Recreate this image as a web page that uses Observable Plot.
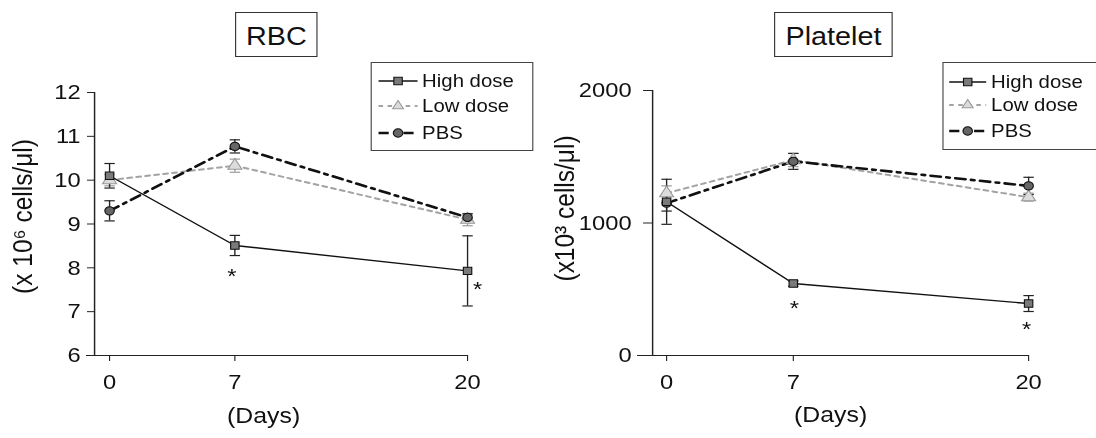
<!DOCTYPE html>
<html><head><meta charset="utf-8">
<script src="https://cdn.jsdelivr.net/npm/d3@7"></script>
<script src="https://cdn.jsdelivr.net/npm/@observablehq/plot@0.6"></script>
<style>
html,body{margin:0;padding:0;background:#fff;overflow:hidden;width:1096px;height:438px}
#wrap{position:relative;height:438px;transform-origin:0 0;font-family:"Liberation Sans",Arial,sans-serif;color:#111}
.panel{position:absolute;top:0}
.tbox{position:absolute;box-sizing:border-box;border:1px solid #333;text-align:center;background:#fff;white-space:nowrap}
.legend{position:absolute;box-sizing:border-box;border:1px solid #444;background:#fff}
.lrow{position:absolute;left:0;height:20px;white-space:nowrap}
.lrow svg{position:absolute;top:3px}
.lrow span{position:absolute;top:0;line-height:20px;font-size:18px}
</style>
</head><body>
<div id="wrap"></div>
<script>
// ---- data ----
const days = [0, 7, 20];
const dayTicks = [0, 7, 20];
const seriesNames = ["High dose", "Low dose", "PBS"];

const rbcHigh = [10.1, 8.51, 7.93];
const rbcHighErr = [0.28, 0.23, 0.8];
const rbcLow = [10.0, 10.33, 9.1];
const rbcLowErr = [0.13, 0.15, 0.14];
const rbcPbs = [9.3, 10.77, 9.15];
const rbcPbsErr = [0.23, 0.15, 0.08];
const rbcTicks = [6, 7, 8, 9, 10, 11, 12];

const pltHigh = [1160, 543, 392];
const pltHighErr = [170, 20, 60];
const pltLow = [1225, 1475, 1195];
const pltLowErr = [55, 50, 30];
const pltPbs = [1150, 1465, 1280];
const pltPbsErr = [60, 60, 65];
const pltTicks = [0, 1000, 2000];

const starDays = [7, 20];
const rbcStarValues = [7.92, 7.64];
const pltStarValues = [400, 241];

// ---- layout ----
const S = 1.13; // horizontal stretch of the scanned figure
const wrap = document.getElementById("wrap");
wrap.style.width = (1096 / S) + "px";
wrap.style.transform = `scaleX(${S})`;

const styles = {
  "High dose": {stroke: "#111", width: 1.4, dash: null, symbol: "square", r: 4.2, fill: "#7a7a7a", mstroke: "#111", err: "#222"},
  "Low dose": {stroke: "#a3a3a3", width: 2, dash: "4,4", symbol: "triangle", r: 4.6, fill: "#dcdcdc", mstroke: "#999", err: "#9a9a9a"},
  "PBS": {stroke: "#111", width: 2.6, dash: "9,5,3,5", symbol: "circle", r: 4.2, fill: "#666", mstroke: "#111", err: "#222"}
};
const capSymbol = {draw(ctx) { const w = 4.6; ctx.moveTo(-w, 0); ctx.lineTo(w, 0); }};

function makeChart(o) {
  const rows = [];
  o.series.forEach((vals, si) => vals.forEach((v, i) => rows.push({
    series: seriesNames[si], day: days[i], value: v,
    lo: v - o.errs[si][i], hi: v + o.errs[si][i]
  })));
  const by = n => rows.filter(r => r.series === n);
  const order = ["Low dose", "PBS", "High dose"];
  const marks = [
    Plot.ruleX([o.x0], {y1: o.yDomain[0], y2: o.yDomain[1], stroke: "#222", strokeWidth: 1.3}),
    Plot.ruleY([o.yDomain[0]], {stroke: "#222", strokeWidth: 1.2, insetLeft: -o.xAxisExtend / S}),
    Plot.axisY({ticks: o.yTicks, tickSize: o.yTickSize / S, tickPadding: o.yTickPad / S, label: null,
      fontSize: 21, tickFormat: d => String(d), stroke: "#222"}),
    Plot.axisX({ticks: dayTicks, tickSize: 6, tickPadding: 13, label: null, fontSize: 21,
      tickFormat: d => String(d), stroke: "#222"})
  ];
  for (const n of order) {
    const st = styles[n];
    marks.push(Plot.line(by(n), {x: "day", y: "value", stroke: st.stroke, strokeWidth: st.width,
      strokeDasharray: st.dash || undefined}));
  }
  for (const n of order) {
    const st = styles[n];
    marks.push(Plot.ruleX(by(n), {x: "day", y1: "lo", y2: "hi", stroke: st.err, strokeWidth: 1.2}));
    marks.push(Plot.dot(by(n), {x: "day", y: "hi", symbol: capSymbol, fill: "none", stroke: st.err, strokeWidth: 1.2}));
    marks.push(Plot.dot(by(n), {x: "day", y: "lo", symbol: capSymbol, fill: "none", stroke: st.err, strokeWidth: 1.2}));
  }
  for (const n of order) {
    const st = styles[n];
    marks.push(Plot.dot(by(n), {x: "day", y: "value", symbol: st.symbol, r: st.r, fill: st.fill,
      stroke: st.mstroke, strokeWidth: 1}));
  }
  starDays.forEach((d, i) => {
    marks.push(Plot.text([{day: d, value: o.starValues[i]}], {x: "day", y: "value", text: () => "*",
      fontSize: 21, dx: o.starDx[i] / S, dy: 5.4, fill: "#111"}));
  });
  marks.push(Plot.text(["(Days)"], {text: d => d, frameAnchor: "bottom", dx: o.daysDx / S, dy: o.daysDy, fontSize: 22, fill: "#111"}));
  marks.push(Plot.text([o.yLabel], {text: d => d, frameAnchor: "left", textAnchor: "middle", rotate: -90,
    dx: o.yLabDx / S, dy: o.yLabDy, fontSize: 24.5, fill: "#111"}));

  return Plot.plot({
    width: 548 / S, height: 438,
    marginLeft: o.mLeft / S, marginRight: o.mRight / S, marginTop: o.mTop, marginBottom: o.mBottom,
    x: {domain: [o.x0, 20]},
    y: {domain: o.yDomain},
    style: {fontFamily: "'Liberation Sans', Arial, sans-serif", fontSize: "21px", color: "#111", background: "transparent", overflow: "visible"},
    marks
  });
}

const left = makeChart({
  series: [rbcHigh, rbcLow, rbcPbs], errs: [rbcHighErr, rbcLowErr, rbcPbsErr],
  yDomain: [6, 12], yTicks: rbcTicks, x0: -0.838,
  mLeft: 94, mRight: 548 - 467, mTop: 92, mBottom: 83,
  yTickSize: 7, yTickPad: 7, xAxisExtend: 8,
  starValues: rbcStarValues, starDx: [-3, 10],
  daysDx: 263 - 280.5, daysDy: 68,
  yLabel: "(x 10\u2076 cells/\u03bcl)", yLabDx: 23 - 94, yLabDy: -7.5
});
const right = makeChart({
  series: [pltHigh, pltLow, pltPbs], errs: [pltHighErr, pltLowErr, pltPbsErr],
  yDomain: [0, 2000], yTicks: pltTicks, x0: -0.773,
  mLeft: 104, mRight: 548 - 480, mTop: 90, mBottom: 83,
  yTickSize: 9, yTickPad: 12, xAxisExtend: 15,
  starValues: pltStarValues, starDx: [1, -2],
  daysDx: 282 - 292, daysDy: 67,
  yLabel: "(x10\u00b3 cells/\u03bcl)", yLabDx: 565 - 652, yLabDy: -14.5
});

function panel(node, x) {
  const d = document.createElement("div");
  d.className = "panel";
  d.style.left = (x / S) + "px";
  d.appendChild(node);
  wrap.appendChild(d);
}
panel(left, 0);
panel(right, 548);

// ---- titles ----
function titleBox(text, x1, x2) {
  const d = document.createElement("div");
  d.className = "tbox";
  d.textContent = text;
  Object.assign(d.style, {left: (x1 / S) + "px", top: "12px", width: ((x2 - x1) / S) + "px", height: "45px",
    lineHeight: "43px", paddingTop: "2px", fontSize: "25.5px"});
  wrap.appendChild(d);
}
titleBox("RBC", 235, 318);
titleBox("Platelet", 774, 893);

// ---- legends ----
function sample(name, w) {
  const st = styles[name];
  const sym = {square: d3.symbolSquare, triangle: d3.symbolTriangle2 || d3.symbolTriangle, circle: d3.symbolCircle}[st.symbol];
  const p = d3.symbol(sym, Math.PI * st.r * st.r)();
  return `<svg width="${w}" height="14" style="overflow:visible"><line x1="0" x2="${w}" y1="7" y2="7" stroke="${st.stroke}" stroke-width="${st.width}" ${st.dash ? `stroke-dasharray="${st.dash}"` : ""}/><path d="${p}" transform="translate(${w / 2},7)" fill="${st.fill}" stroke="${st.mstroke}"/></svg>`;
}
function legend(o) {
  const d = document.createElement("div");
  d.className = "legend";
  Object.assign(d.style, {left: (o.x1 / S) + "px", top: o.y1 + "px", width: ((o.x2 - o.x1) / S) + "px", height: (o.y2 - o.y1) + "px"});
  seriesNames.forEach((n, i) => {
    const r = document.createElement("div");
    r.className = "lrow";
    r.style.top = (o.rows[i] - o.y1 - 10 - 1) + "px";
    const sw = (o.s2 - o.s1) / S;
    r.innerHTML = `<div style="position:absolute;left:${(o.s1 - o.x1) / S}px">${sample(n, sw)}</div><span style="left:${(o.tx - o.x1) / S}px">${n}</span>`;
    d.appendChild(r);
  });
  wrap.appendChild(d);
}
legend({x1: 371, x2: 533, y1: 62, y2: 151, s1: 377, s2: 416, tx: 421, rows: [81, 106, 133]});
legend({x1: 942, x2: 1115, y1: 62, y2: 150, s1: 948, s2: 985, tx: 990, rows: [82, 105, 131]});
</script>
</body></html>
